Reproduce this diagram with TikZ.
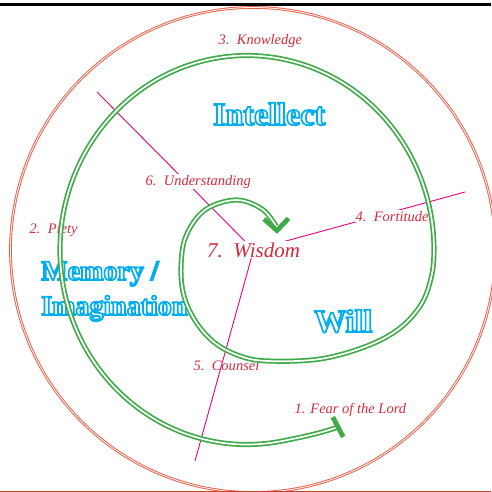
\documentclass[tikz,border=0pt]{standalone}
\usepackage{fontspec}
\setmainfont{Liberation Serif}
\usetikzlibrary{backgrounds,calc}
\definecolor{lblred}{HTML}{D42B3C}
\definecolor{spokepink}{HTML}{E5007D}
\definecolor{spgreen}{HTML}{3FAA48}
\definecolor{ringred}{HTML}{EC5E48}
\definecolor{bluetxt}{HTML}{00AEEF}
\definecolor{rust}{HTML}{B8492F}
\newcommand{\outl}[1]{{\color{white}\special{pdf:literal direct 2 Tr 1.7 w 0 0.682 0.937 RG}#1\special{pdf:literal direct 0 Tr}}}
\tikzset{
  lbl/.style={text=lblred, font=\itshape\fontsize{14.5}{17}\selectfont, anchor=base west, inner sep=0.5pt},
  lblfill/.style={lbl, fill=white},
  bigtxt/.style={anchor=base west, inner sep=0pt, font=\bfseries\fontsize{32}{36}\selectfont},
  midtxt/.style={bigtxt, font=\bfseries\fontsize{28}{32}\selectfont},
  spoke/.style={draw=spokepink, line width=0.9pt},
  spiral/.style={draw=spgreen, line width=1.7pt, double=white, double distance=1.7pt},
  ring/.style={draw=ringred, line width=0.95pt, double=white, double distance=0.8pt},
  thickgreen/.style={draw=spgreen, line width=4.8pt},
}
\begin{document}
\begin{tikzpicture}[x=1pt,y=-1pt]
\useasboundingbox (0,0) rectangle (491,492);
% labels
\node[lbl] (knowledge) at (218,45) {3.\ \ Knowledge};
\node[lblfill] (understanding) at (145,185) {6.\ \ Understanding};
\node[lbl] (piety) at (29,233) {2.\ \ Piety};
\node[lblfill] (fortitude) at (355,221) {4.\ \ Fortitude};
\node[lblfill, font=\itshape\fontsize{21}{24}\selectfont, inner sep=1pt] (wisdom) at (206,257) {7.\ \ Wisdom};
\node[lbl] (counsel) at (193,370) {5.\ \ Counsel};
\node[lbl] (fear) at (294,413) {1. Fear of the Lord};
% big outlined words
\node[bigtxt] (intellect) at (213,125) {\outl{Intellect}};
\node[midtxt] (memory) at (41,280) {\outl{Memory /}};
\node[midtxt] (imagination) at (41,315) {\outl{Imagination}};
\node[bigtxt] (will) at (314,332) {\outl{Will}};
% spokes
\coordinate (e1) at (97,92);
\coordinate (e2) at (465,192);
\coordinate (e3) at (195,461);
\begin{pgfonlayer}{background}
  \draw[spoke] (wisdom.center) -- (e1);
  \draw[spoke] (wisdom.center) -- (e2);
  \draw[spoke] (wisdom.center) -- (e3);
\end{pgfonlayer}
% spiral
\coordinate (sstart) at (338,427);
\coordinate (barA) at ($(sstart)+(-5.2,-9.9)$);
\coordinate (barB) at ($(sstart)+(5.2,9.9)$);
\draw[spiral] (sstart) .. controls (322,433) and (298,438) .. (279.47,441.54)
  arc[start angle=80, end angle=360, x radius=187, y radius=194.5]
  -- plot[smooth, tension=0.6] coordinates {(434,250) (432,274) (422,303) (400,328) (367,346) (320,359) (268,361) (240,356) (215,343) (196,322) (184,296) (181,267) (186,236) (205,210) (236,200) (262,209) (276,226)};
\draw[thickgreen, line join=miter] (264,219) -- (277,230.5) -- (288.5,218.5);
\draw[thickgreen] (barA) -- (barB);
% outer ring
\draw[ring] (253,250) circle[radius=242.5];
% frame lines
\draw[line width=2.6pt] (0,4.6) -- (491,4.6);
\draw[rust, line width=1.4pt] (0,491.3) -- (491,491.3);
\end{tikzpicture}
\end{document}
